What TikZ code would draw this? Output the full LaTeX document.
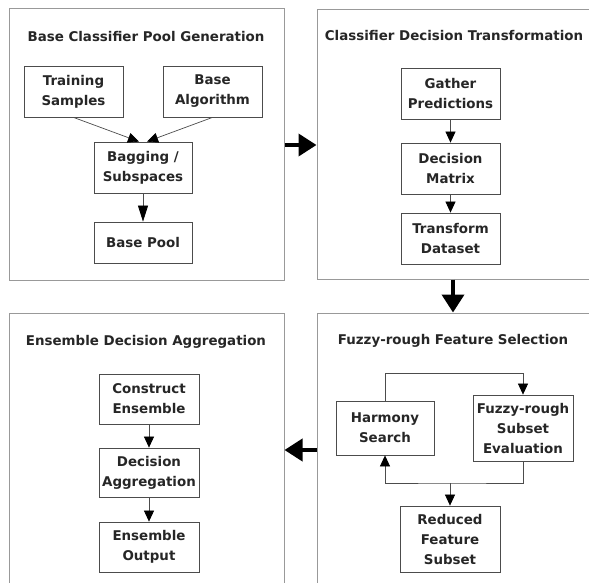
\documentclass[tikz,border=0pt]{standalone}
\usepackage{fontspec}
\setmainfont{DejaVu Sans}
\usetikzlibrary{arrows.meta,calc}
\begin{document}
\begin{tikzpicture}[x=1pt,y=-1pt,
  txt/.style={font=\fontsize{13.4}{20}\selectfont\bfseries, text=black!85},
  panel/.style={draw=black!40, line width=1pt, inner sep=0pt},
  ptitle/.style={txt, anchor=center},
  box/.style={txt, draw=black!70, line width=0.8pt, align=center, inner sep=0pt, minimum width=#1},
  box/.default=99pt,
  small/.style={draw=black!70, line width=0.7pt, -{Triangle[length=11pt,width=10pt,fill=black,color=black]}},
  big/.style={draw=black, line width=3.8pt, -{Triangle[length=18pt,width=22pt]}}
]
\useasboundingbox (0,0) rectangle (589,582);
\fill[white] (0,0) rectangle (589,582);
\clip (0,0) rectangle (589,582);

% panels
\node[panel, minimum width=275pt, minimum height=272pt] (p1) at (146.5,144) {};
\node[panel, minimum width=283pt, minimum height=270pt] (p2) at (458.5,144) {};
\node[panel, minimum width=283pt, minimum height=290pt] (p3) at (458.5,458) {};
\node[panel, minimum width=275pt, minimum height=290pt] (p4) at (146.5,458) {};

% titles
\node[ptitle] (t1) at (146,36) {Base Classifier Pool Generation};
\node[ptitle] (t2) at (454,35) {Classifier Decision Transformation};
\node[ptitle] (t3) at (453,341) {Fuzzy-rough Feature Selection};
\node[ptitle] (t4) at (146,342) {Ensemble Decision Aggregation};

% panel 1
\node[box, minimum height=51pt] (ts) at (73.5,91.5) {Training\\Samples};
\node[box, minimum height=51pt] (ba) at (212.5,91.5) {Base\\Algorithm};
\node[box=98pt, minimum height=51pt] (bs) at (143,167.5) {Bagging /\\Subspaces};
\node[box=98pt, minimum height=41pt] (bp) at (143,242.5) {Base Pool};
\draw[small] (ts.south) -- ([xshift=-4pt]bs.north);
\draw[small] (ba.south) -- ([xshift=4pt]bs.north);
\draw[draw=black!70, line width=0.7pt, -{Triangle[length=16pt,width=10pt,fill=black,color=black]}] (bs) -- (bp);

% panel 2
\node[box, minimum height=51pt] (gp) at (450.5,93.5) {Gather\\Predictions};
\node[box, minimum height=51pt] (dm) at (450.5,168.5) {Decision\\Matrix};
\node[box, minimum height=51pt] (td) at (450.5,238.5) {Transform\\Dataset};
\draw[small] (gp) -- (dm);
\draw[small] (dm) -- (td);

% panel 3
\node[box=98pt, minimum height=54pt] (hs) at (385,428) {Harmony\\Search};
\node[box=100pt, minimum height=66pt] (fe) at (523,428) {Fuzzy-rough\\Subset\\Evaluation};
\node[box=100pt, minimum height=66pt] (rf) at (450,539) {Reduced\\Feature\\Subset};
\coordinate (j) at (450,483);
\draw[small] (hs.north) -- ++(0,-27) -| (fe.north);
\draw[small] (fe.south) |- (j) -| (hs.south);
\draw[small] (j) -- (rf.north);

% panel 4
\node[box=100pt, minimum height=50pt] (ce) at (149,399) {Construct\\Ensemble};
\node[box=100pt, minimum height=49pt] (da) at (149,472.5) {Decision\\Aggregation};
\node[box=100pt, minimum height=50pt] (eo) at (149,547) {Ensemble\\Output};
\draw[small] (ce) -- (da);
\draw[small] (da) -- (eo);

% big arrows between panels
\draw[big] (p1.east |- 0,145) -- (p2.west |- 0,145);
\draw[big] (p2.south -| 453,0) -- (p3.north -| 453,0);
\draw[big] (p3.west |- 0,450) -- (p4.east |- 0,450);
\end{tikzpicture}
\end{document}
